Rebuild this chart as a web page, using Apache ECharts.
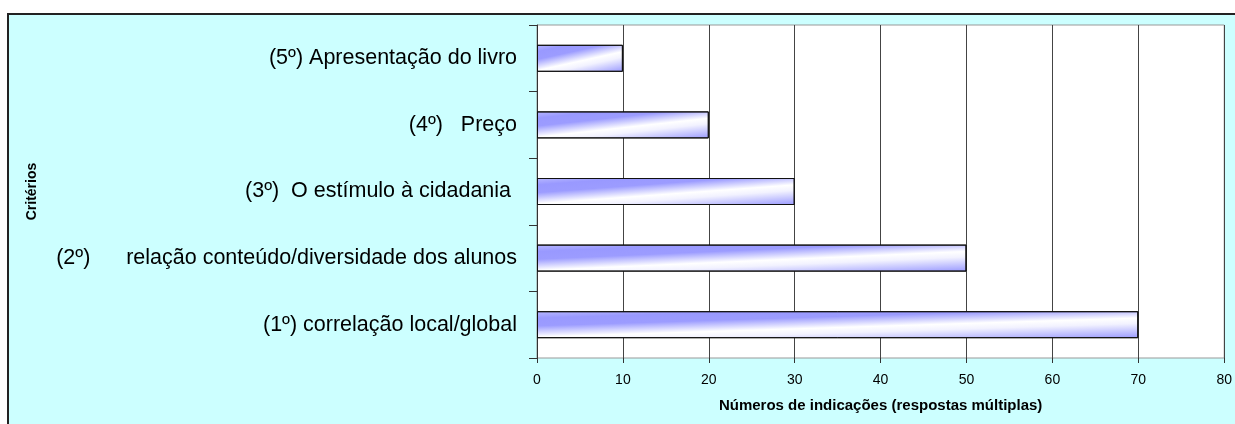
<!DOCTYPE html>
<html>
<head>
<meta charset="utf-8">
<script src="https://cdn.jsdelivr.net/npm/echarts@6/dist/echarts.min.js"></script>
<style>
  html, body { margin: 0; padding: 0; background: #fff; }
  #box { position: absolute; left: 7px; top: 13px; width: 1240px; height: 420px;
         border: 2px solid #222; background: #CCFFFF; }
  #main { position: absolute; left: 0; top: 0; width: 1235px; height: 424px; }
</style>
</head>
<body>
<div id="box"></div>
<div id="main"></div>
<script>
  // critérios, de baixo para cima
  const categories = [
    '(1º) correlação local/global',
    '(2º)      relação conteúdo/diversidade dos alunos',
    '(3º)  O estímulo à cidadania ',
    '(4º)   Preço',
    '(5º) Apresentação do livro'
  ];
  const values = [70, 50, 30, 20, 10];
  const xMin = 0, xMax = 80, xStep = 10;

  const font = 'Liberation Sans, Arial, sans-serif';
  var myChart = echarts.init(document.getElementById('main'));

  var option = {
    backgroundColor: 'transparent',
    animation: false,
    grid: {
      left: 537, right: 8, top: 25, bottom: 66,
      show: true, backgroundColor: '#fff', borderColor: '#999', borderWidth: 1
    },
    xAxis: {
      type: 'value',
      min: xMin, max: xMax, interval: xStep,
      name: 'Números de indicações (respostas múltiplas)',
      nameLocation: 'middle',
      nameGap: 40,
      nameTextStyle: { fontFamily: font, fontSize: 15, fontWeight: 'bold', color: '#000' },
      axisLine: { lineStyle: { color: '#555', width: 2 } },
      axisTick: { show: true, length: 5, lineStyle: { color: '#333' } },
      axisLabel: { fontFamily: font, fontSize: 14, color: '#000', margin: 15 },
      splitLine: { show: true, lineStyle: { color: '#444', width: 1 } }
    },
    yAxis: {
      type: 'category',
      data: categories,
      name: 'Critérios',
      nameLocation: 'middle',
      nameRotate: 90,
      nameGap: 498,
      nameTextStyle: { fontFamily: font, fontSize: 14, fontWeight: 'bold', color: '#000' },
      axisLine: { lineStyle: { color: '#333', width: 1 } },
      axisTick: { show: true, length: 8, lineStyle: { color: '#333' } },
      axisLabel: { fontFamily: font, fontSize: 21.5, color: '#000', margin: 20 },
      splitLine: { show: false }
    },
    series: [{
      type: 'bar',
      barWidth: 27,
      data: values,
      itemStyle: { color: '#9999ff', borderColor: '#111', borderWidth: 1 }
    }]
  };

  myChart.setOption(option);

  // gradiente inclinado (escuro em cima, claro em baixo), em coordenadas de pixel
  const barH = 27;
  const a = 0.7; // quanto a faixa desliza ao longo da barra
  const x0 = myChart.convertToPixel({ xAxisIndex: 0 }, 0);
  const styled = values.map(function (v, i) {
    const L = myChart.convertToPixel({ xAxisIndex: 0 }, v) - x0;
    const yTop = myChart.convertToPixel({ yAxisIndex: 0 }, i) - barH / 2;
    const s = (1 + a) / (a * a * barH / L + L / barH);
    const g = new echarts.graphic.LinearGradient(x0, yTop, x0 + s * a * barH, yTop + s * L, [
      { offset: 0, color: '#b8b8ff' },
      { offset: 0.15, color: '#9999ff' },
      { offset: 0.32, color: '#9c9cff' },
      { offset: 0.56, color: '#ffffff' },
      { offset: 0.68, color: '#f2f2ff' },
      { offset: 1, color: '#9999ff' }
    ], true);
    return { value: v, itemStyle: { color: g } };
  });
  myChart.setOption({ series: [{ data: styled }] });
</script>
</body>
</html>
